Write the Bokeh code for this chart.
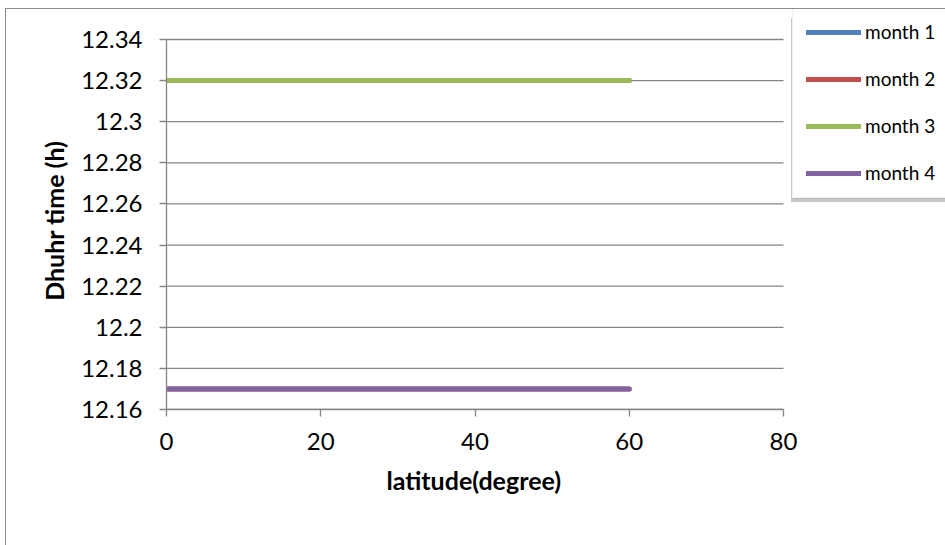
from bokeh.plotting import figure
from bokeh.models import FixedTicker, Legend, LegendItem, Title
from bokeh.embed import file_html
from bokeh.resources import INLINE

# Dhuhr time across latitudes for four months
latitude = [0, 10, 20, 30, 40, 50, 60]
month_1 = [12.32, 12.32, 12.32, 12.32, 12.32, 12.32, 12.32]
month_2 = [12.17, 12.17, 12.17, 12.17, 12.17, 12.17, 12.17]
month_3 = [12.32, 12.32, 12.32, 12.32, 12.32, 12.32, 12.32]
month_4 = [12.17, 12.17, 12.17, 12.17, 12.17, 12.17, 12.17]

series_names = ["month 1", "month 2", "month 3", "month 4"]
series_colors = ["#4F81BD", "#C0504D", "#9BBB59", "#8064A2"]

x_ticks = [0, 20, 40, 60, 80]
y_ticks = [12.16, 12.18, 12.2, 12.22, 12.24, 12.26, 12.28, 12.3, 12.32, 12.34]
y_tick_labels = ["12.16", "12.18", "12.2", "12.22", "12.24", "12.26",
                 "12.28", "12.3", "12.32", "12.34"]

FONT = "Lato"
GRID = "#868686"

# The frame reaches the right and top edges so the legend can sit beside the
# axes; axis lines and grid are bounded to the tick range.
x_lo, x_hi = x_ticks[0], x_ticks[-1]
y_lo, y_hi = y_ticks[0], y_ticks[-1]
px_per_x = 617 / (x_hi - x_lo)
px_per_y = 370 / (y_hi - y_lo)
frame_w, frame_h = 780, 400

p = figure(width=940, height=537, output_backend="svg", toolbar_location=None,
           x_range=(x_lo, x_lo + frame_w / px_per_x),
           y_range=(y_lo, y_lo + frame_h / px_per_y),
           min_border_left=160, min_border_right=0,
           min_border_top=0, min_border_bottom=137,
           margin=(8, 0, 0, 5),
           styles={"border-left": "1.5px solid #8c8c8c",
                   "border-top": "1.5px solid #8c8c8c"})
p.outline_line_color = None
p.background_fill_color = "white"
p.border_fill_color = "white"
p.grid.grid_line_color = None

# horizontal gridlines spanning the plotted latitude range
p.segment(x0=x_lo, x1=x_hi, y0=y_ticks, y1=y_ticks,
          line_color=GRID, line_width=1.3, level="underlay")

for ax in (p.xaxis[0], p.yaxis[0]):
    ax.axis_line_color = GRID
    ax.axis_line_width = 1.3
    ax.major_tick_line_color = GRID
    ax.major_tick_line_width = 1.3
    ax.major_tick_in = 0
    ax.major_tick_out = 7
    ax.minor_tick_line_color = None
    ax.major_label_text_font = FONT
    ax.major_label_text_font_size = "24px"
    ax.major_label_text_color = "black"

p.xaxis.bounds = (x_lo, x_hi)
p.yaxis.bounds = (y_lo, y_hi)
p.xaxis.ticker = FixedTicker(ticks=x_ticks)
p.yaxis.ticker = FixedTicker(ticks=y_ticks)
p.yaxis.major_label_overrides = {t: s for t, s in zip(y_ticks, y_tick_labels)}
p.xaxis.major_label_standoff = 16
p.yaxis.major_label_standoff = 17

# axis titles, positioned along the bounded axes
title_kw = dict(text_font=FONT, text_font_style="bold", text_font_size="25px",
                text_color="black")
p.add_layout(Title(text="latitude(degree)", align="left", offset=220,
                   standoff=20, **title_kw), "below")
p.add_layout(Title(text="Dhuhr time (h)", align="right", offset=131,
                   standoff=20, vertical_align="bottom", **title_kw), "left")

items = []
for name, col, ys in zip(series_names, series_colors, [month_1, month_2, month_3, month_4]):
    r = p.line(latitude, ys, line_color=col, line_width=5, line_cap="round")
    items.append(LegendItem(label=name, renderers=[r]))

legend_kw = dict(glyph_width=55, glyph_height=20, label_height=20,
                 spacing=24, padding=13, margin=0, label_standoff=4,
                 label_text_font=FONT, label_text_font_size="19px")

# soft drop shadow behind the legend box
shadow_items = [LegendItem(label=" ", renderers=it.renderers) for it in items]
shadow = Legend(items=shadow_items, location=(625, 207), label_width=90,
                border_line_color="#d8d8d8", border_line_width=3,
                background_fill_color="#b8b8b8", background_fill_alpha=1.0,
                **legend_kw)
p.add_layout(shadow, "center")

legend = Legend(items=items, location=(626, 211),
                label_text_color="black",
                border_line_color="#e4e4e4", background_fill_color="white",
                background_fill_alpha=1.0, **legend_kw)
p.add_layout(legend, "center")

open("out.html", "w").write(file_html(p, INLINE))
